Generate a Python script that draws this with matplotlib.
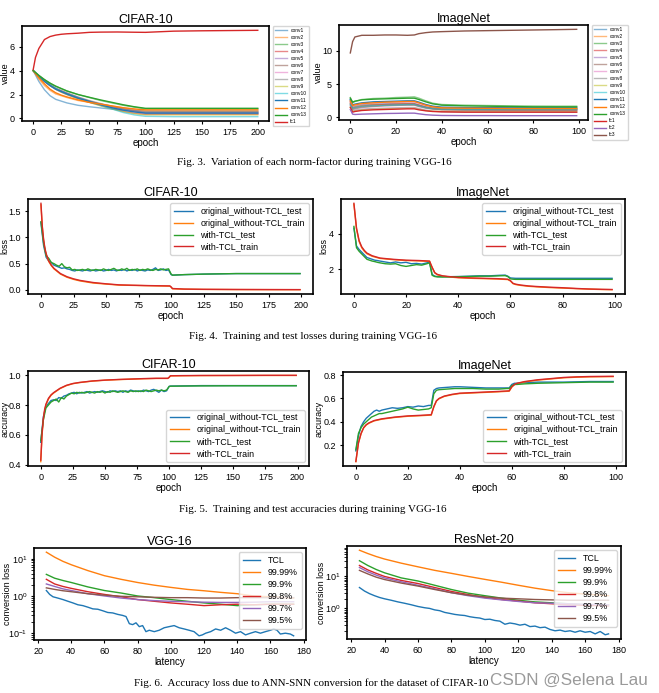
import matplotlib
matplotlib.use("Agg")
import matplotlib.pyplot as plt

plt.rcParams['font.family'] = ['Liberation Sans', 'DejaVu Sans']
plt.rcParams['axes.linewidth'] = 1.2
plt.rcParams['xtick.labelsize'] = 6.5
plt.rcParams['ytick.labelsize'] = 6.5
plt.rcParams['axes.labelsize'] = 7
plt.rcParams['axes.titlesize'] = 9
plt.rcParams['xtick.major.size'] = 2.5
plt.rcParams['ytick.major.size'] = 2.5
plt.rcParams['xtick.major.pad'] = 2.5
plt.rcParams['ytick.major.pad'] = 2.5
plt.rcParams['lines.linewidth'] = 1.0

# ----- FIG 3: norm factors -----
nf_cifar_epoch = [0, 5, 10, 15, 20, 25, 30, 40, 50, 60, 70, 80, 90, 100, 125, 150, 175, 200]
nf_cifar = {
    'conv1': [4.0, 3.1, 2.4, 1.9, 1.6, 1.45, 1.3, 1.1, 0.98, 0.88, 0.78, 0.7, 0.65, 0.62, 0.62, 0.62, 0.62, 0.62],
    'conv2': [4.0, 3.3, 2.75, 2.35, 2.05, 1.9, 1.75, 1.5, 1.35, 1.2, 1.05, 0.9, 0.75, 0.62, 0.6, 0.6, 0.6, 0.6],
    'conv3': [4.0, 3.6, 3.25, 2.95, 2.7, 2.5, 2.3, 2.0, 1.75, 1.5, 1.3, 1.1, 0.95, 0.8, 0.8, 0.8, 0.8, 0.8],
    'conv4': [4.0, 3.5, 3.1, 2.75, 2.45, 2.2, 2.0, 1.65, 1.35, 1.1, 0.85, 0.6, 0.45, 0.35, 0.35, 0.35, 0.35, 0.35],
    'conv5': [4.0, 3.55, 3.15, 2.8, 2.5, 2.3, 2.1, 1.75, 1.45, 1.2, 1.0, 0.8, 0.65, 0.5, 0.5, 0.5, 0.5, 0.5],
    'conv6': [4.0, 3.55, 3.15, 2.8, 2.5, 2.3, 2.1, 1.75, 1.45, 1.2, 0.98, 0.78, 0.6, 0.45, 0.45, 0.45, 0.45, 0.45],
    'conv7': [4.0, 3.5, 3.1, 2.75, 2.45, 2.25, 2.05, 1.7, 1.4, 1.15, 0.92, 0.72, 0.55, 0.4, 0.4, 0.4, 0.4, 0.4],
    'conv8': [4.0, 3.55, 3.2, 2.85, 2.55, 2.35, 2.15, 1.8, 1.5, 1.25, 1.02, 0.82, 0.68, 0.55, 0.55, 0.55, 0.55, 0.55],
    'conv9': [4.0, 3.5, 3.1, 2.75, 2.45, 2.2, 2.0, 1.65, 1.35, 1.05, 0.8, 0.58, 0.4, 0.3, 0.3, 0.3, 0.3, 0.3],
    'conv10': [4.0, 3.55, 3.15, 2.8, 2.5, 2.25, 2.05, 1.7, 1.4, 1.1, 0.8, 0.5, 0.3, 0.18, 0.15, 0.15, 0.15, 0.15],
    'conv11': [4.0, 3.5, 3.1, 2.75, 2.45, 2.25, 2.05, 1.7, 1.42, 1.15, 0.9, 0.7, 0.55, 0.45, 0.45, 0.45, 0.45, 0.45],
    'conv12': [4.0, 3.4, 2.9, 2.45, 2.15, 1.95, 1.8, 1.55, 1.35, 1.2, 1.05, 0.9, 0.8, 0.72, 0.72, 0.72, 0.72, 0.72],
    'conv13': [4.0, 3.6, 3.25, 2.95, 2.7, 2.5, 2.3, 2.0, 1.77, 1.55, 1.35, 1.15, 0.98, 0.85, 0.85, 0.85, 0.85, 0.85],
}
fc1_cifar_epoch = [0, 2, 5, 10, 15, 20, 25, 30, 40, 50, 60, 75, 90, 100, 125, 150, 175, 200]
fc1_cifar = [4.1, 5.1, 5.85, 6.6, 6.85, 6.97, 7.04, 7.08, 7.13, 7.2, 7.22, 7.23, 7.21, 7.2, 7.3, 7.33, 7.35, 7.37]

nf_imnet_epoch = [0, 1, 2, 5, 10, 15, 20, 25, 28, 30, 33, 36, 40, 50, 60, 70, 80, 90, 99]
nf_imnet = {
    'conv1': [2.6, 1.6, 1.7, 1.9, 2.0, 2.05, 2.1, 2.1, 2.1, 1.9, 1.6, 1.45, 1.35, 1.3, 1.3, 1.3, 1.3, 1.3, 1.3],
    'conv2': [2.2, 1.5, 1.6, 1.8, 1.9, 1.95, 2.0, 2.0, 2.0, 1.8, 1.55, 1.4, 1.3, 1.25, 1.25, 1.25, 1.25, 1.25, 1.25],
    'conv3': [3.0, 2.2, 2.4, 2.7, 2.85, 2.9, 3.0, 3.05, 3.1, 2.9, 2.5, 2.15, 1.95, 1.85, 1.8, 1.75, 1.72, 1.7, 1.7],
    'conv4': [2.4, 1.4, 1.5, 1.7, 1.85, 1.95, 2.0, 2.05, 2.05, 1.85, 1.55, 1.35, 1.2, 1.15, 1.12, 1.1, 1.1, 1.1, 1.1],
    'conv5': [1.8, 1.0, 1.1, 1.25, 1.35, 1.4, 1.45, 1.5, 1.5, 1.35, 1.1, 0.95, 0.85, 0.8, 0.8, 0.8, 0.8, 0.8, 0.8],
    'conv6': [2.0, 1.2, 1.3, 1.5, 1.65, 1.75, 1.8, 1.85, 1.85, 1.65, 1.4, 1.25, 1.15, 1.1, 1.1, 1.1, 1.1, 1.1, 1.1],
    'conv7': [2.3, 1.7, 1.8, 2.0, 2.15, 2.2, 2.25, 2.3, 2.3, 2.1, 1.8, 1.6, 1.5, 1.45, 1.42, 1.4, 1.4, 1.4, 1.4],
    'conv8': [2.1, 1.3, 1.4, 1.6, 1.7, 1.8, 1.85, 1.9, 1.9, 1.7, 1.45, 1.3, 1.2, 1.15, 1.15, 1.15, 1.15, 1.15, 1.15],
    'conv9': [1.6, 0.9, 1.0, 1.15, 1.25, 1.3, 1.35, 1.4, 1.4, 1.25, 1.05, 0.95, 0.9, 0.88, 0.88, 0.88, 0.88, 0.88, 0.88],
    'conv10': [1.9, 1.4, 1.5, 1.7, 1.8, 1.85, 1.9, 1.95, 1.95, 1.75, 1.5, 1.35, 1.25, 1.2, 1.2, 1.2, 1.2, 1.2, 1.2],
    'conv11': [2.7, 1.9, 2.0, 2.2, 2.35, 2.4, 2.45, 2.5, 2.5, 2.3, 1.95, 1.7, 1.55, 1.5, 1.48, 1.45, 1.45, 1.45, 1.45],
    'conv12': [2.5, 1.8, 1.9, 2.1, 2.2, 2.3, 2.35, 2.4, 2.4, 2.2, 1.85, 1.6, 1.45, 1.4, 1.38, 1.35, 1.35, 1.35, 1.35],
    'conv13': [2.9, 2.3, 2.45, 2.65, 2.75, 2.8, 2.85, 2.9, 2.9, 2.7, 2.35, 2.05, 1.85, 1.75, 1.7, 1.65, 1.6, 1.6, 1.6],
    'fc1': [1.5, 0.8, 0.9, 1.05, 1.15, 1.2, 1.25, 1.3, 1.3, 1.15, 1.0, 0.9, 0.85, 0.8, 0.8, 0.8, 0.8, 0.8, 0.8],
    'fc2': [1.2, 0.5, 0.45, 0.5, 0.55, 0.6, 0.62, 0.65, 0.65, 0.55, 0.42, 0.35, 0.3, 0.28, 0.28, 0.27, 0.27, 0.27, 0.27],
    'fc3': [9.7, 11.4, 12.1, 12.35, 12.35, 12.4, 12.4, 12.35, 12.4, 12.6, 12.75, 12.85, 12.9, 13.0, 13.05, 13.1, 13.15, 13.2, 13.25],
}

# ----- FIG 4 / FIG 5: training curves -----
series_names = ['original_without-TCL_test', 'original_without-TCL_train', 'with-TCL_test', 'with-TCL_train']

cifar_test_epoch = [0, 2, 4, 6, 8, 10, 12, 14, 16, 18, 20, 22, 24, 26, 28, 30, 32, 34, 36, 38, 40, 42, 44, 46, 48,
                    50, 52, 54, 56, 58, 60, 62, 64, 66, 68, 70, 72, 74, 76, 78, 80, 82, 84, 86, 88, 90, 92, 94, 96, 98,
                    100, 101, 110, 125, 150, 175, 199]
cifar_train_epoch = [0, 1, 2, 3, 4, 6, 8, 10, 15, 20, 25, 30, 40, 50, 60, 70, 80, 90, 99, 100, 101, 110, 125, 150, 175, 199]

cifar_loss_orig_test = [1.28, 0.85, 0.62, 0.55, 0.52, 0.47, 0.45, 0.43, 0.41, 0.42, 0.40, 0.39, 0.37, 0.36, 0.38, 0.37,
                        0.36, 0.38, 0.37, 0.36, 0.38, 0.36, 0.37, 0.38, 0.36, 0.37, 0.39, 0.37, 0.38, 0.36, 0.38, 0.37,
                        0.39, 0.36, 0.38, 0.37, 0.39, 0.36, 0.38, 0.37, 0.36, 0.38, 0.37, 0.39, 0.42, 0.37, 0.38, 0.40,
                        0.37, 0.38, 0.29, 0.28, 0.29, 0.30, 0.31, 0.31, 0.31]
cifar_loss_tcl_test = [1.30, 0.90, 0.65, 0.60, 0.52, 0.50, 0.47, 0.45, 0.50, 0.44, 0.42, 0.43, 0.38, 0.39, 0.37, 0.38,
                       0.39, 0.37, 0.40, 0.38, 0.37, 0.39, 0.38, 0.37, 0.40, 0.38, 0.37, 0.39, 0.41, 0.38, 0.37, 0.40,
                       0.38, 0.41, 0.37, 0.39, 0.38, 0.40, 0.37, 0.39, 0.38, 0.40, 0.38, 0.37, 0.39, 0.38, 0.40, 0.38,
                       0.39, 0.40, 0.30, 0.28, 0.29, 0.30, 0.31, 0.31, 0.31]
cifar_loss_orig_train = [1.62, 1.20, 0.95, 0.78, 0.67, 0.54, 0.46, 0.40, 0.30, 0.24, 0.20, 0.17, 0.13, 0.11, 0.09, 0.085,
                         0.08, 0.075, 0.07, 0.05, 0.02, 0.012, 0.008, 0.005, 0.004, 0.003]
cifar_loss_tcl_train = [1.65, 1.22, 0.97, 0.80, 0.69, 0.55, 0.47, 0.41, 0.31, 0.25, 0.21, 0.18, 0.14, 0.115, 0.095, 0.088,
                        0.082, 0.078, 0.075, 0.055, 0.025, 0.015, 0.01, 0.007, 0.005, 0.004]

imnet_loss_test_epoch = [0, 1, 2, 3, 4, 5, 6, 7, 8, 9, 10, 12, 14, 16, 18, 20, 22, 24, 26, 28, 29, 30, 31, 32, 34, 36,
                         40, 44, 48, 52, 56, 58, 59, 60, 61, 62, 65, 70, 80, 90, 99]
imnet_loss_orig_test = [4.3, 3.3, 3.1, 2.95, 2.8, 2.65, 2.6, 2.55, 2.5, 2.48, 2.45, 2.4, 2.35, 2.4, 2.35, 2.38, 2.3, 2.32,
                        2.28, 2.35, 2.4, 1.7, 1.6, 1.58, 1.58, 1.57, 1.58, 1.6, 1.62, 1.62, 1.65, 1.66, 1.6, 1.5, 1.49,
                        1.48, 1.48, 1.48, 1.48, 1.48, 1.48]
imnet_loss_tcl_test = [4.4, 3.2, 3.0, 2.85, 2.7, 2.55, 2.5, 2.45, 2.42, 2.38, 2.35, 2.3, 2.28, 2.3, 2.2, 2.15, 2.2, 2.25,
                       2.22, 2.3, 2.35, 1.65, 1.58, 1.56, 1.55, 1.56, 1.57, 1.58, 1.6, 1.6, 1.62, 1.63, 1.58, 1.45, 1.43,
                       1.42, 1.42, 1.42, 1.42, 1.42, 1.42]
imnet_loss_train_epoch = [0, 1, 2, 3, 4, 5, 7, 10, 15, 20, 25, 29, 30, 31, 32, 34, 37, 40, 45, 50, 55, 59, 60, 61, 62,
                          64, 67, 70, 75, 80, 85, 90, 95, 99]
imnet_loss_orig_train = [5.65, 4.25, 3.55, 3.2, 3.0, 2.86, 2.72, 2.6, 2.53, 2.48, 2.46, 2.43, 2.08, 1.78, 1.68, 1.6,
                         1.55, 1.51, 1.48, 1.46, 1.44, 1.41, 1.33, 1.18, 1.13, 1.08, 1.03, 1.0, 0.96, 0.93, 0.9, 0.87,
                         0.85, 0.84]
imnet_loss_tcl_train = [5.7, 4.3, 3.6, 3.25, 3.05, 2.9, 2.75, 2.62, 2.55, 2.5, 2.48, 2.45, 2.1, 1.8, 1.7, 1.62, 1.57,
                        1.53, 1.5, 1.48, 1.46, 1.43, 1.35, 1.2, 1.15, 1.1, 1.05, 1.02, 0.98, 0.95, 0.91, 0.88, 0.86, 0.85]

cifar_acc_orig_test = [0.55, 0.72, 0.79, 0.81, 0.83, 0.835, 0.83, 0.85, 0.845, 0.86, 0.865, 0.875, 0.88, 0.885, 0.875,
                       0.885, 0.88, 0.885, 0.89, 0.88, 0.885, 0.89, 0.885, 0.89, 0.895, 0.89, 0.885, 0.895, 0.89, 0.895,
                       0.89, 0.895, 0.885, 0.895, 0.89, 0.9, 0.895, 0.89, 0.895, 0.89, 0.9, 0.895, 0.89, 0.9, 0.905,
                       0.895, 0.885, 0.9, 0.89, 0.895, 0.925, 0.927, 0.928, 0.93, 0.93, 0.93, 0.93]
cifar_acc_tcl_test = [0.56, 0.70, 0.78, 0.80, 0.82, 0.83, 0.84, 0.82, 0.85, 0.84, 0.86, 0.87, 0.88, 0.875, 0.885, 0.88,
                      0.885, 0.88, 0.885, 0.89, 0.885, 0.88, 0.89, 0.885, 0.89, 0.88, 0.89, 0.885, 0.895, 0.89, 0.885,
                      0.89, 0.895, 0.89, 0.885, 0.895, 0.89, 0.895, 0.89, 0.895, 0.89, 0.9, 0.895, 0.89, 0.895, 0.9,
                      0.895, 0.9, 0.895, 0.9, 0.924, 0.926, 0.927, 0.928, 0.929, 0.929, 0.929]
cifar_acc_orig_train = [0.42, 0.60, 0.70, 0.76, 0.80, 0.84, 0.865, 0.88, 0.91, 0.93, 0.943, 0.95, 0.96, 0.966, 0.97,
                        0.973, 0.976, 0.978, 0.978, 0.985, 0.995, 0.996, 0.997, 0.998, 0.998, 0.998]
cifar_acc_tcl_train = [0.43, 0.61, 0.71, 0.77, 0.805, 0.845, 0.868, 0.883, 0.912, 0.932, 0.944, 0.951, 0.961, 0.967,
                       0.971, 0.974, 0.977, 0.979, 0.979, 0.986, 0.996, 0.997, 0.998, 0.998, 0.999, 0.999]

imnet_acc_test_epoch = [0, 1, 2, 3, 4, 5, 6, 7, 8, 9, 10, 12, 14, 16, 18, 20, 22, 24, 26, 28, 29, 30, 31, 32, 35, 38,
                        40, 45, 50, 55, 58, 59, 60, 61, 62, 65, 70, 80, 90, 99]
imnet_acc_orig_test = [0.15, 0.28, 0.36, 0.40, 0.43, 0.45, 0.47, 0.49, 0.50, 0.49, 0.50, 0.51, 0.52, 0.515, 0.52, 0.53,
                       0.525, 0.535, 0.53, 0.54, 0.54, 0.67, 0.685, 0.69, 0.695, 0.70, 0.70, 0.695, 0.69, 0.69, 0.69,
                       0.69, 0.72, 0.73, 0.73, 0.735, 0.74, 0.74, 0.745, 0.745]
imnet_acc_tcl_test = [0.16, 0.30, 0.35, 0.38, 0.40, 0.42, 0.44, 0.45, 0.46, 0.47, 0.47, 0.48, 0.49, 0.50, 0.51, 0.525,
                      0.51, 0.50, 0.505, 0.51, 0.52, 0.64, 0.67, 0.675, 0.68, 0.685, 0.685, 0.685, 0.68, 0.68, 0.685,
                      0.685, 0.71, 0.72, 0.72, 0.725, 0.73, 0.735, 0.74, 0.74]
imnet_acc_train_epoch = [0, 1, 2, 3, 4, 5, 7, 10, 15, 20, 25, 29, 30, 31, 32, 34, 37, 40, 45, 50, 55, 59, 60, 61, 62,
                         65, 70, 75, 80, 85, 90, 99]
imnet_acc_orig_train = [0.057, 0.217, 0.297, 0.347, 0.372, 0.387, 0.407, 0.422, 0.437, 0.447, 0.452, 0.457, 0.527,
                        0.577, 0.597, 0.617, 0.632, 0.642, 0.647, 0.652, 0.657, 0.662, 0.697, 0.717, 0.727, 0.742,
                        0.757, 0.767, 0.777, 0.782, 0.785, 0.787]
imnet_acc_tcl_train = [0.06, 0.22, 0.30, 0.35, 0.375, 0.39, 0.41, 0.425, 0.44, 0.45, 0.455, 0.46, 0.53, 0.58, 0.60,
                       0.62, 0.635, 0.645, 0.65, 0.655, 0.66, 0.665, 0.70, 0.72, 0.73, 0.745, 0.76, 0.77, 0.78, 0.785,
                       0.788, 0.79]

# ----- FIG 6: conversion loss -----
pct_labels = ['99.99%', '99.9%', '99.8%', '99.7%', '99.5%']
latency = [25, 30, 35, 40, 50, 60, 70, 80, 90, 100, 110, 120, 130, 140, 150, 160, 174]

vgg_tcl_latency = [25, 27, 29, 31, 33, 35, 38, 41, 44, 47, 50, 53, 56, 59, 62, 65, 68, 71, 73, 75, 77, 79, 81, 83, 85,
                   87, 90, 93, 96, 99, 102, 105, 108, 111, 114, 117, 119, 121, 124, 127, 130, 133, 136, 139, 142, 145,
                   148, 151, 154, 157, 160, 162, 164, 166, 169, 172, 174]
vgg_tcl = [1.4, 1.1, 0.95, 0.9, 0.85, 0.8, 0.72, 0.65, 0.58, 0.55, 0.5, 0.45, 0.44, 0.4, 0.36, 0.35, 0.32, 0.3, 0.28,
           0.18, 0.17, 0.19, 0.15, 0.16, 0.11, 0.12, 0.11, 0.12, 0.14, 0.15, 0.16, 0.14, 0.13, 0.12, 0.11, 0.085, 0.09,
           0.1, 0.11, 0.13, 0.12, 0.14, 0.12, 0.1, 0.11, 0.09, 0.1, 0.11, 0.1, 0.11, 0.12, 0.13, 0.12, 0.095, 0.1,
           0.095, 0.085]
vgg_pct = [
    [15, 11, 8.5, 6.9, 4.8, 3.5, 2.8, 2.3, 1.95, 1.7, 1.5, 1.38, 1.25, 1.15, 1.0, 0.95, 0.88],
    [3.8, 3.0, 2.6, 2.3, 1.75, 1.4, 1.2, 1.0, 0.9, 0.8, 0.72, 0.65, 0.6, 0.55, 0.58, 0.6, 0.6],
    [2.8, 2.1, 1.8, 1.6, 1.3, 1.1, 0.95, 0.8, 0.72, 0.65, 0.6, 0.55, 0.58, 0.6, 0.58, 0.6, 0.6],
    [2.1, 1.8, 1.55, 1.4, 1.15, 1.0, 0.88, 0.8, 0.75, 0.72, 0.7, 0.68, 0.67, 0.67, 0.68, 0.7, 0.7],
    [1.65, 1.5, 1.38, 1.3, 1.15, 1.05, 0.98, 0.95, 0.92, 0.9, 0.9, 0.88, 0.88, 0.9, 0.9, 0.9, 0.9],
]

resnet_tcl_latency = [25, 28, 31, 34, 37, 40, 44, 48, 52, 56, 60, 64, 67, 70, 73, 76, 79, 82, 85, 88, 91, 94, 97, 100,
                      103, 106, 109, 112, 115, 118, 121, 124, 127, 130, 133, 136, 139, 142, 145, 148, 151, 154, 157,
                      160, 163, 166, 169, 172, 174]
resnet_tcl = [4.5, 3.5, 2.9, 2.5, 2.2, 2.0, 1.8, 1.6, 1.45, 1.3, 1.15, 1.05, 1.0, 0.9, 0.85, 0.75, 0.7, 0.65, 0.62,
              0.6, 0.55, 0.52, 0.5, 0.45, 0.46, 0.42, 0.4, 0.32, 0.35, 0.33, 0.3, 0.32, 0.27, 0.28, 0.25, 0.26, 0.22,
              0.2, 0.21, 0.19, 0.2, 0.18, 0.2, 0.18, 0.19, 0.16, 0.19, 0.15, 0.16]
resnet_pct = [
    [66, 52, 42, 35, 26, 20, 15.5, 12.5, 10, 8.1, 6.6, 5.3, 4.3, 3.6, 3.1, 2.8, 2.5],
    [31, 22, 16.5, 13, 9, 7.2, 5.3, 3.9, 3.0, 2.5, 2.1, 1.8, 1.6, 1.5, 1.4, 1.3, 1.3],
    [22, 16, 12.5, 10, 7.5, 6.0, 4.5, 3.4, 2.7, 2.2, 1.9, 1.7, 1.5, 1.4, 1.3, 1.25, 1.2],
    [19, 14, 11, 9, 6.8, 5.3, 4.1, 3.1, 2.5, 2.1, 1.85, 1.65, 1.5, 1.45, 1.4, 1.35, 1.3],
    [15.5, 12, 9.5, 8, 6.2, 5.0, 3.9, 3.1, 2.6, 2.3, 2.1, 2.0, 1.9, 1.85, 1.8, 1.8, 1.8],
]

W, H = 659, 693
fig = plt.figure(figsize=(W / 100, H / 100), dpi=100)


def ax_at(l, t, r, b):
    # pixel box -> figure fraction
    return fig.add_axes([l / W, 1 - b / H, (r - l) / W, (b - t) / H])


def set_ylab(ax, text, l, r, right_px):
    # right_px = right edge of the rotated label, in figure pixels
    ax.set_ylabel(text, fontsize=6.5)
    ax.yaxis.set_label_coords((right_px - l) / (r - l), 0.5)


NF_LEG = dict(loc='upper left', bbox_to_anchor=(1.005, 1.03), fontsize=3.5,
              handlelength=2.4, labelspacing=0.42, borderpad=0.45)

# Fig 3 left
ax = ax_at(22, 26, 269, 121)
for i, (name, vals) in enumerate(nf_cifar.items()):
    ax.plot(nf_cifar_epoch, vals, label=name, alpha=0.55 if i < 10 else 1.0)
ax.plot(fc1_cifar_epoch, fc1_cifar, label='fc1')
ax.set_title('CIFAR-10', pad=2)
ax.set_xlabel('epoch', labelpad=1)
set_ylab(ax, 'value', 22, 269, 9.5)
ax.set_xticks([0, 25, 50, 75, 100, 125, 150, 175, 200])
ax.legend(**NF_LEG)

# Fig 3 right
ax = ax_at(339, 25, 588, 120)
for i, (name, vals) in enumerate(nf_imnet.items()):
    ax.plot(nf_imnet_epoch, vals, label=name, alpha=0.55 if i < 10 else 1.0)
ax.set_title('ImageNet', pad=2)
ax.set_xlabel('epoch', labelpad=1)
set_ylab(ax, 'value', 339, 588, 323)
ax.legend(**NF_LEG)


def curves(ax, xs_test, xs_train, ot, otr, tt, ttr, title, loc):
    ax.plot(xs_test, ot, label=series_names[0])
    ax.plot(xs_train, otr, label=series_names[1])
    ax.plot(xs_test, tt, label=series_names[2])
    ax.plot(xs_train, ttr, label=series_names[3])
    ax.set_title(title, pad=2)
    ax.set_xlabel('epoch', labelpad=1)
    ax.legend(loc=loc, fontsize=6.4, labelspacing=0.32, borderpad=0.4, handlelength=2.2)


ax = ax_at(28, 199, 313, 294)
curves(ax, cifar_test_epoch, cifar_train_epoch, cifar_loss_orig_test, cifar_loss_orig_train,
       cifar_loss_tcl_test, cifar_loss_tcl_train, 'CIFAR-10', 'upper right')
ax.set_xticks([0, 25, 50, 75, 100, 125, 150, 175, 200])
set_ylab(ax, 'loss', 28, 313, 9.5)

ax = ax_at(341, 199, 625, 294)
curves(ax, imnet_loss_test_epoch, imnet_loss_train_epoch, imnet_loss_orig_test, imnet_loss_orig_train,
       imnet_loss_tcl_test, imnet_loss_tcl_train, 'ImageNet', 'upper right')
ax.set_yticks([2, 4])
set_ylab(ax, 'loss', 341, 625, 328)

ax = ax_at(28, 371, 309, 466)
curves(ax, cifar_test_epoch, cifar_train_epoch, cifar_acc_orig_test, cifar_acc_orig_train,
       cifar_acc_tcl_test, cifar_acc_tcl_train, 'CIFAR-10', 'lower right')
ax.set_xticks([0, 25, 50, 75, 100, 125, 150, 175, 200])
set_ylab(ax, 'accuracy', 28, 309, 9.5)

ax = ax_at(343, 372, 626, 466)
curves(ax, imnet_acc_test_epoch, imnet_acc_train_epoch, imnet_acc_orig_test, imnet_acc_orig_train,
       imnet_acc_tcl_test, imnet_acc_tcl_train, 'ImageNet', 'lower right')
set_ylab(ax, 'accuracy', 343, 626, 324)


def conv_plot(ax, tcl_x, tcl, pct, title):
    ax.plot(tcl_x, tcl, label='TCL')
    for lab, vals in zip(pct_labels, pct):
        ax.plot(latency, vals, label=lab)
    ax.set_yscale('log')
    ax.set_title(title, pad=2)
    ax.set_xlabel('latency', labelpad=1)
    ax.set_xticks([20, 40, 60, 80, 100, 120, 140, 160, 180])
    ax.legend(loc='upper right', fontsize=6.4, labelspacing=0.32, borderpad=0.45, handlelength=2.0)


ax = ax_at(34, 548, 306, 640)
conv_plot(ax, vgg_tcl_latency, vgg_tcl, vgg_pct, 'VGG-16')
set_ylab(ax, 'conversion loss', 34, 306, 12)
ax = ax_at(347, 546, 621, 639)
conv_plot(ax, resnet_tcl_latency, resnet_tcl, resnet_pct, 'ResNet-20')
set_ylab(ax, 'conversion loss', 347, 621, 326)

cap = dict(ha='center', va='center', fontsize=7.9, family=['Liberation Serif', 'DejaVu Serif'])
fig.text(314 / W, 1 - 162 / H, 'Fig. 3.  Variation of each norm-factor during training VGG-16', **cap)
fig.text(313 / W, 1 - 337 / H, 'Fig. 4.  Training and test losses during training VGG-16', **cap)
fig.text(313 / W, 1 - 510 / H, 'Fig. 5.  Training and test accuracies during training VGG-16', **cap)
fig.text(311 / W, 1 - 683 / H, 'Fig. 6.  Accuracy loss due to ANN-SNN conversion for the dataset of CIFAR-10', **cap)
fig.text(569 / W, 1 - 680 / H, 'CSDN @Selena Lau', ha='center', va='center', fontsize=12.3, color='#9a9a9a')

fig.savefig('out.png', dpi=100)
